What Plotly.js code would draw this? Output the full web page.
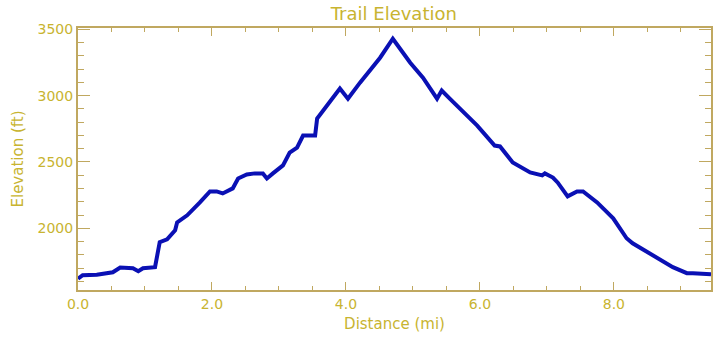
<!DOCTYPE html>
<html>
<head>
<meta charset="utf-8">
<script src="https://cdn.plot.ly/plotly-3.0.1.min.js"></script>
<style>html,body{margin:0;padding:0;background:#fff;}#chart{width:720px;height:345px;}</style>
</head>
<body>
<div id="chart"></div>
<script>
const distanceMi = [0.0, 0.07, 0.28, 0.52, 0.63, 0.82, 0.90, 0.97, 1.15, 1.22, 1.33, 1.45, 1.48, 1.63, 1.82, 1.97, 2.07, 2.16, 2.31, 2.39, 2.52, 2.64, 2.76, 2.82, 2.91, 3.06, 3.16, 3.27, 3.36, 3.54, 3.57, 3.91, 4.03, 4.21, 4.51, 4.70, 4.96, 5.15, 5.36, 5.43, 5.55, 5.85, 5.96, 6.22, 6.30, 6.49, 6.57, 6.75, 6.93, 6.97, 7.09, 7.16, 7.31, 7.45, 7.54, 7.75, 7.99, 8.19, 8.28, 8.58, 8.88, 9.09, 9.18, 9.45];
const elevationFt = [1620, 1647, 1650, 1669, 1705, 1699, 1677, 1699, 1707, 1895, 1917, 1985, 2045, 2098, 2195, 2278, 2278, 2263, 2301, 2376, 2406, 2414, 2414, 2376, 2414, 2474, 2571, 2609, 2699, 2699, 2827, 3053, 2977, 3098, 3286, 3429, 3248, 3135, 2977, 3038, 2977, 2827, 2774, 2624, 2617, 2496, 2474, 2421, 2399, 2414, 2383, 2346, 2241, 2278, 2278, 2195, 2075, 1925, 1887, 1797, 1707, 1662, 1662, 1654];
const xTickVals = [0, 2, 4, 6, 8];
const xTickText = ["0.0", "2.0", "4.0", "6.0", "8.0"];
const yTickVals = [2000, 2500, 3000, 3500];
const yTickText = ["2000", "2500", "3000", "3500"];

const axisColor = '#c0a860';
const textColor = '#c8b430';
const fontFam = 'Verdana, "DejaVu Sans", sans-serif';

const trace = {
  x: distanceMi, y: elevationFt, type: 'scatter', mode: 'lines',
  line: {color: '#0a10b4', width: 4}, hoverinfo: 'skip'
};

const layout = {
  width: 720, height: 345,
  margin: {l: 78, r: 9, t: 28, b: 55},
  paper_bgcolor: '#ffffff', plot_bgcolor: '#ffffff',
  showlegend: false,
  font: {family: fontFam, color: textColor, size: 14},
  title: {text: 'Trail Elevation', x: 0.547, xanchor: 'center', y: 0.96, yanchor: 'middle',
          font: {family: fontFam, size: 18, color: textColor}},
  xaxis: {
    range: [0, 9.45], showgrid: false, zeroline: false,
    showline: true, linecolor: axisColor, linewidth: 2, mirror: 'ticks',
    ticks: 'inside', ticklen: 8, tickcolor: axisColor, tickwidth: 1,
    tickvals: xTickVals, ticktext: xTickText,
    tickfont: {family: fontFam, size: 14, color: textColor},
    minor: {dtick: 0.5, ticks: 'inside', ticklen: 4, tickcolor: axisColor, showgrid: false},
    title: {text: 'Distance (mi)', standoff: 8, font: {family: fontFam, size: 15, color: textColor}}
  },
  yaxis: {
    range: [1535, 3510], showgrid: false, zeroline: false,
    showline: true, linecolor: axisColor, linewidth: 2, mirror: 'ticks',
    ticks: 'inside', ticklen: 12, tickcolor: axisColor, tickwidth: 1,
    tickvals: yTickVals, ticktext: yTickText,
    tickfont: {family: fontFam, size: 14, color: textColor},
    minor: {dtick: 100, ticks: 'inside', ticklen: 6, tickcolor: axisColor, showgrid: false},
    title: {text: 'Elevation (ft)', standoff: 10, font: {family: fontFam, size: 15, color: textColor}}
  }
};

Plotly.newPlot('chart', [trace], layout, {displayModeBar: false, staticPlot: true});
</script>
</body>
</html>
